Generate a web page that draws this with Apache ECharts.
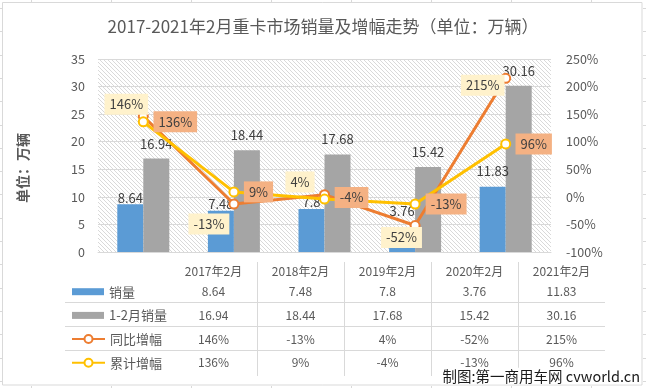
<!DOCTYPE html>
<html><head><meta charset="utf-8">
<script src="https://cdn.jsdelivr.net/npm/echarts@6.0.0/dist/echarts.min.js"></script>
<style>html,body{margin:0;padding:0;background:#fff}#c{width:646px;height:388px}</style>
</head><body><div id="c"></div>
<script>
// ---- data ----
const categories = ['2017年2月', '2018年2月', '2019年2月', '2020年2月', '2021年2月'];
const sales = [8.64, 7.48, 7.8, 3.76, 11.83];
const salesJanFeb = [16.94, 18.44, 17.68, 15.42, 30.16];
const yoyGrowth = [146, -13, 4, -52, 215];
const cumGrowth = [136, 9, -4, -13, 96];
const leftTicks = [0, 5, 10, 15, 20, 25, 30, 35];
const rightTicks = [-100, -50, 0, 50, 100, 150, 200, 250];
const seriesNames = ['销量', '1-2月销量', '同比增幅', '累计增幅'];
const titleText = '2017-2021年2月重卡市场销量及增幅走势（单位：万辆）';
const axisNameText = '单位：万辆';
const sourceText = '制图:第一商用车网 cvworld.cn';

// ---- styling / label placement (not data) ----
const salesLabelDist = [0, 0, 0, 14, 9];
const janFebLabelDist = [8.5, 8.5, 8.5, 8.5, 8.5];
const yoyLabelOffset = [[-17, -12], [-25, 20], [-24.5, -12.7], [-13.6, 12], [-23, 7]];
const cumLabelOffset = [[32, 0], [24.6, 0], [27, -1.6], [31, 0], [28, 0]];
const FONT = "'Noto Sans CJK SC', 'Noto Sans', sans-serif";

// hatch pattern for plot background
const pc = document.createElement('canvas');
pc.width = 4; pc.height = 4;
const pg = pc.getContext('2d');
pg.fillStyle = '#ffffff'; pg.fillRect(0, 0, 4, 4);
pg.fillStyle = '#d9d9d9';
for (let i = 0; i < 4; i++) pg.fillRect(i, i, 1, 1);

const chart = echarts.init(document.getElementById('c'), null, {renderer: 'canvas'});

const option = {
  animation: false,
  backgroundColor: '#ffffff',
  textStyle: {fontFamily: FONT},
  title: {
    text: titleText, left: 'center', top: 13,
    textStyle: {fontSize: 17, fontWeight: 'normal', color: '#595959', fontFamily: FONT}
  },
  legend: [{
    data: [seriesNames[0], seriesNames[1]],
    orient: 'vertical', left: 72, top: 284.7, itemGap: 9.7, padding: 0,
    itemWidth: 32, itemHeight: 7, icon: 'rect', selectedMode: false,
    textStyle: {color: '#595959', fontSize: 13, lineHeight: 14, fontFamily: FONT}
  }, {
    data: [seriesNames[2], seriesNames[3]],
    orient: 'vertical', left: 71, top: 332, itemGap: 9.7, padding: 0,
    itemWidth: 33, itemHeight: 10, selectedMode: false,
    textStyle: {color: '#595959', fontSize: 13, lineHeight: 14, fontFamily: FONT}
  }],
  grid: [{
    left: 98, right: 95, top: 59, bottom: 136,
    show: true, borderWidth: 0,
    backgroundColor: {image: pc, repeat: 'repeat'}
  }, {
    left: 170, right: 41, top: 262, height: 114, show: false
  }],
  xAxis: [{
    type: 'category', data: categories, gridIndex: 0,
    axisLabel: {show: false}, axisTick: {show: false},
    axisLine: {show: true, lineStyle: {color: '#d9d9d9', width: 1}}
  }, {
    type: 'category', data: categories, gridIndex: 1, position: 'top',
    axisLine: {show: false}, axisTick: {show: false},
    axisLabel: {inside: true, margin: 3, interval: 0, color: '#595959', fontSize: 12, fontFamily: FONT},
    splitLine: {show: true, interval: 0, showMinLine: false, showMaxLine: false, lineStyle: {color: '#d9d9d9', width: 1}}
  }],
  yAxis: [{
    type: 'value', gridIndex: 0,
    min: leftTicks[0], max: leftTicks[leftTicks.length - 1], interval: leftTicks[1] - leftTicks[0],
    axisLine: {show: false}, axisTick: {show: false},
    axisLabel: {color: '#595959', fontSize: 12.5, margin: 13, fontFamily: FONT},
    splitLine: {show: true, lineStyle: {color: '#d9d9d9', width: 1}}
  }, {
    type: 'value', gridIndex: 0, position: 'right',
    min: rightTicks[0], max: rightTicks[rightTicks.length - 1], interval: rightTicks[1] - rightTicks[0],
    axisLine: {show: false}, axisTick: {show: false},
    axisLabel: {color: '#595959', fontSize: 12.5, margin: 15, formatter: '{value}%', fontFamily: FONT},
    splitLine: {show: false}
  }, {
    type: 'value', gridIndex: 1, show: false
  }],
  series: [{
    name: seriesNames[0], type: 'bar', xAxisIndex: 0, yAxisIndex: 0,
    barWidth: 26, barGap: '0%',
    itemStyle: {color: '#5B9BD5'},
    label: {show: true, position: 'top', color: '#404040', fontSize: 13, fontFamily: FONT},
    data: sales.map((v, i) => ({value: v, label: {distance: salesLabelDist[i]}})),
    z: 2
  }, {
    name: seriesNames[1], type: 'bar', xAxisIndex: 0, yAxisIndex: 0,
    barWidth: 26, barGap: '0%',
    itemStyle: {color: '#A5A5A5'},
    label: {show: true, position: 'top', color: '#404040', fontSize: 13, fontFamily: FONT},
    data: salesJanFeb.map((v, i) => ({value: v, label: {distance: janFebLabelDist[i]}})),
    z: 2
  }, {
    name: seriesNames[2], type: 'line', xAxisIndex: 0, yAxisIndex: 1,
    symbol: 'circle', symbolSize: 9, showAllSymbol: true,
    lineStyle: {color: '#ED7D31', width: 3},
    itemStyle: {color: '#ffffff', borderColor: '#ED7D31', borderWidth: 2},
    label: {
      show: true, position: 'inside', formatter: '{c}%', color: '#404040', fontSize: 13, fontFamily: FONT,
      backgroundColor: '#FFF2CC', padding: [4, 5, 4, 5], textBorderWidth: 0
    },
    data: yoyGrowth.map((v, i) => ({value: v, label: {offset: yoyLabelOffset[i]}})),
    z: 3
  }, {
    name: seriesNames[3], type: 'line', xAxisIndex: 0, yAxisIndex: 1,
    symbol: 'circle', symbolSize: 9, showAllSymbol: true,
    lineStyle: {color: '#FFC000', width: 3},
    itemStyle: {color: '#ffffff', borderColor: '#FFC000', borderWidth: 2},
    label: {
      show: true, position: 'inside', formatter: '{c}%', color: '#404040', fontSize: 13, fontFamily: FONT,
      backgroundColor: '#F4B183', padding: [4, 5, 4, 5], textBorderWidth: 0
    },
    data: cumGrowth.map((v, i) => ({value: v, label: {offset: cumLabelOffset[i]}})),
    z: 4
  }]
};

chart.setOption(option);

// ---- decorations and data table ----
const graphics = [];
// outer Excel cell gridlines peeking out
[31, 111, 191, 271, 351, 431, 511, 591].forEach(x => {
  graphics.push({type: 'line', shape: {x1: x + 0.5, y1: 0, x2: x + 0.5, y2: 2}, style: {stroke: '#d9d9d9', lineWidth: 1}, silent: true});
  graphics.push({type: 'line', shape: {x1: x + 0.5, y1: 386, x2: x + 0.5, y2: 388}, style: {stroke: '#d9d9d9', lineWidth: 1}, silent: true});
});
for (let y = 8; y < 388; y += 23.3) {
  const yy = Math.round(y) + 0.5;
  graphics.push({type: 'line', shape: {x1: 0, y1: yy, x2: 2, y2: yy}, style: {stroke: '#d9d9d9', lineWidth: 1}, silent: true});
  graphics.push({type: 'line', shape: {x1: 643, y1: yy, x2: 646, y2: yy}, style: {stroke: '#d9d9d9', lineWidth: 1}, silent: true});
}
// chart border
graphics.push({type: 'rect', shape: {x: 2.5, y: 2.5, width: 639.5, height: 382.5}, style: {fill: null, stroke: '#d9d9d9', lineWidth: 1}, silent: true});
// y-axis name
graphics.push({type: 'text', x: 23, y: 168, rotation: Math.PI / 2,
  style: {text: axisNameText, align: 'center', verticalAlign: 'middle', font: 'bold 14px ' + FONT, fill: '#595959'}});
// table horizontal lines
[302.5, 326.5, 350.5].forEach(y => {
  graphics.push({type: 'line', shape: {x1: 65, y1: y, x2: 605, y2: y}, style: {stroke: '#d9d9d9', lineWidth: 1}, silent: true});
});
// table values
const rowY = [291.7, 315.2, 339, 362.7];
const rows = [sales.map(String), salesJanFeb.map(String), yoyGrowth.map(v => v + '%'), cumGrowth.map(v => v + '%')];
categories.forEach((c, i) => {
  const x = chart.convertToPixel({xAxisIndex: 1}, c);
  rows.forEach((row, r) => {
    graphics.push({type: 'text', x: x, y: rowY[r],
      style: {text: row[i], align: 'center', verticalAlign: 'middle', font: '12px ' + FONT, fill: '#595959'}});
  });
});
// source watermark
graphics.push({type: 'text', x: 641, y: 376, z: 100,
  style: {text: sourceText, align: 'right', verticalAlign: 'middle', font: '14.5px ' + FONT, fill: '#1a1a1a',
    backgroundColor: '#ffffff', padding: [1, 1, 1, 2]}});

chart.setOption({graphic: graphics});
</script>
</body></html>
